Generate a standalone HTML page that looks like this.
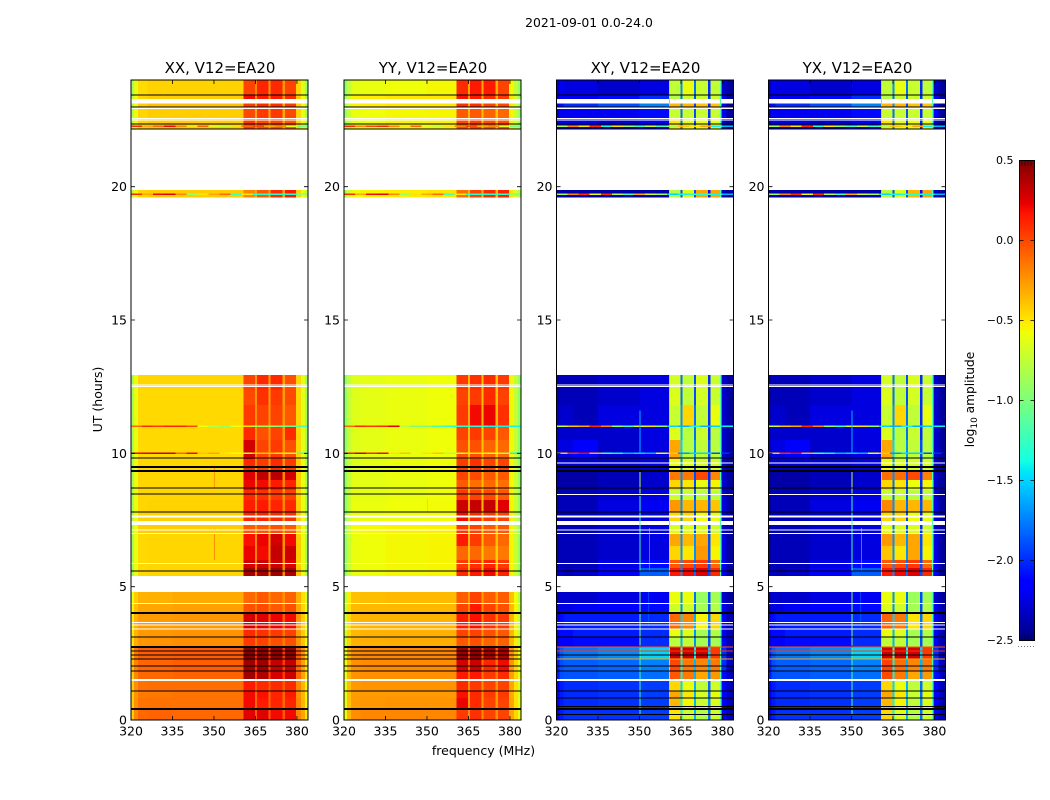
<!DOCTYPE html>
<html>
<head>
<meta charset="utf-8">
<title>2021-09-01 0.0-24.0</title>
<style>
html,body{margin:0;padding:0;background:#fff;}
svg{display:block;}
text{font-family:"DejaVu Sans","Liberation Sans",sans-serif;fill:#000;}
</style>
</head>
<body>
<svg id="fig" width="1050" height="800" viewBox="0 0 1050 800" xmlns="http://www.w3.org/2000/svg">
<text x="589" y="27" font-size="12.4" text-anchor="middle">2021-09-01 0.0-24.0</text>
<text x="483.5" y="755" font-size="12.5" text-anchor="middle">frequency (MHz)</text>
<text x="0" y="0" font-size="12.5" text-anchor="middle" transform="translate(102,399.5) rotate(-90)">UT (hours)</text>
<text x="0" y="0" font-size="12.2" text-anchor="middle" transform="translate(974,399.5) rotate(-90)">log<tspan font-size="9" dy="3">10</tspan><tspan dy="-3"> amplitude</tspan></text>
<g id="panels"></g>
<g id="cbar"></g>
</svg>
<script>
// Frequency column edges (MHz)
var freqEdges=[320,321,322.5,326,335,350,360.6,364.8,365.6,369.7,370.5,374.8,375.6,379.6,381.5,383,384];
// Time rows with data (UT hours, start and end)
var timeRows=[[0,.375],[.375,.825],[.825,1.09],[1.09,1.5],[1.54,1.84],[1.84,2.29],[2.29,2.74],[2.74,3.11],[3.11,3.41],[3.41,4.01],[4.01,4.39],[4.39,4.8],
[5.4,5.7],[5.7,6],[6,6.525],[6.525,7],[7,7.31],[7.46,7.8],[7.8,8.25],[8.25,8.63],[8.63,9],[9,9.34],[9.34,9.79],[9.79,10.5],[10.5,10.99],[10.99,11.81],[11.81,12.38],[12.38,12.94],
[19.59,19.875],[22.14,22.5],[22.5,22.95],[22.99,23.11],[23.29,23.44],[23.44,24]];
// log10 amplitude per time row and frequency column
var ampXX=[
[-.42,-.2,-.1,-.08,-.1,-.1,.25,-.05,.25,-.05,.2,-.05,.2,-.2,-.3,-.5],
[-.42,-.22,-.14,-.13,-.13,-.13,.2,-.1,.15,-.1,.12,-.1,.12,-.2,-.35,-.55],
[-.42,-.24,-.16,-.15,-.14,-.14,.2,-.1,.18,-.1,.12,-.1,.15,-.22,-.35,-.55],
[-.42,-.22,-.13,-.12,-.12,-.12,.15,-.06,.1,-.06,.1,-.06,.1,-.2,-.35,-.55],
[-.42,-.2,-.1,-.1,-.08,-.08,.42,.05,.38,.02,.28,.05,.3,-.1,-.28,-.5],
[-.4,-.18,-.09,-.09,-.07,-.07,.42,.08,.42,.02,.32,.05,.32,-.1,-.28,-.5],
[-.4,-.16,-.07,-.07,-.06,-.06,.48,.1,.45,.05,.45,.05,.45,-.05,-.25,-.48],
[-.5,-.32,-.25,-.24,-.22,-.22,.05,-.12,.02,-.15,-.02,-.15,-.02,-.25,-.4,-.6],
[-.52,-.34,-.26,-.25,-.24,-.24,.1,-.12,.08,-.14,.05,-.14,.02,-.28,-.42,-.62],
[-.52,-.34,-.26,-.26,-.25,-.25,.28,-.05,.25,-.06,.22,-.06,.2,-.25,-.42,-.62],
[-.55,-.38,-.3,-.3,-.28,-.28,-.02,-.15,0,-.18,-.05,-.18,-.02,-.3,-.45,-.65],
[-.6,-.42,-.34,-.33,-.31,-.31,-.1,-.2,-.05,-.22,-.1,-.22,-.08,-.32,-.48,-.7],
[-.85,-.6,-.46,-.45,-.45,-.45,.4,-.12,.4,-.2,.42,-.2,.38,-.4,-.6,-.85],
[-.85,-.6,-.46,-.45,-.45,-.45,.28,-.15,.3,-.2,.3,-.2,.25,-.42,-.6,-.85],
[-.85,-.6,-.46,-.45,-.45,-.45,.22,-.18,.2,-.22,.32,-.22,.3,-.42,-.6,-.85],
[-.85,-.6,-.46,-.45,-.45,-.45,.18,-.2,.22,-.24,.28,-.24,.2,-.42,-.6,-.85],
[-.8,-.6,-.43,-.42,-.42,-.42,-.05,-.25,-.05,-.28,-.02,-.25,-.05,-.42,-.6,-.85],
[-.85,-.6,-.44,-.44,-.44,-.44,.12,-.2,.12,-.22,.1,-.22,.08,-.42,-.6,-.85],
[-.85,-.6,-.45,-.44,-.44,-.44,.14,-.18,.15,-.2,.12,-.2,.1,-.42,-.6,-.85],
[-.85,-.6,-.45,-.45,-.45,-.45,.1,-.2,.08,-.22,.05,-.22,.02,-.44,-.6,-.85],
[-.85,-.6,-.45,-.45,-.45,-.45,.22,-.18,.2,-.2,.15,-.2,.12,-.42,-.6,-.85],
[-.85,-.6,-.45,-.45,-.45,-.45,.25,-.15,.33,-.2,.35,-.2,.28,-.42,-.6,-.85],
[-.85,-.6,-.45,-.45,-.45,-.45,.1,-.2,.05,-.25,.1,-.25,.05,-.42,-.6,-.85],
[-.85,-.6,-.46,-.46,-.46,-.46,.28,-.2,.02,-.25,.05,-.25,-.02,-.45,-.62,-.85],
[-.85,-.6,-.46,-.46,-.46,-.46,.1,-.22,-.02,-.25,.02,-.25,.1,-.45,-.62,-.85],
[-.85,-.6,-.46,-.46,-.46,-.46,.05,-.22,.02,-.25,.02,-.25,-.05,-.45,-.62,-.85],
[-.85,-.6,-.46,-.46,-.46,-.46,0,-.25,.08,-.28,.05,-.28,0,-.45,-.62,-.85],
[-.85,-.6,-.45,-.45,-.45,-.45,.02,-.25,.1,-.28,.1,-.28,-.02,-.45,-.62,-.85],
[-.8,-.6,-.45,-.42,-.42,-.42,-.2,-.3,-.05,-.3,.1,-.3,.15,-.45,-.6,-.75],
[-.8,-.6,-.45,-.42,-.42,-.42,.05,-.25,0,-.28,0,-.28,-.05,-.45,-.6,-.8],
[-.8,-.6,-.45,-.42,-.42,-.42,0,-.3,.05,-.3,.05,-.3,0,-.45,-.62,-.85],
[-.8,-.6,-.42,-.38,-.38,-.38,.05,-.25,.1,-.28,.08,-.28,.05,-.42,-.6,-.85],
[-.8,-.6,-.45,-.42,-.42,-.42,.2,-.2,.15,-.25,.15,-.25,.1,-.42,-.6,-.85],
[-.85,-.62,-.47,-.44,-.44,-.44,.02,-.2,.12,-.25,.1,-.25,.02,-.45,-.65,-.9]];
var ampYY=[
[-.6,-.35,-.22,-.2,-.2,-.2,.05,-.22,.08,-.22,.02,-.22,.02,-.3,-.45,-.6],
[-.62,-.38,-.26,-.25,-.24,-.24,.22,-.25,.1,-.25,.02,-.25,.02,-.3,-.48,-.62],
[-.62,-.38,-.27,-.26,-.26,-.26,.18,-.25,.1,-.25,.05,-.25,.05,-.32,-.48,-.65],
[-.62,-.38,-.26,-.24,-.24,-.24,.1,-.22,.05,-.22,.02,-.22,.02,-.3,-.48,-.65],
[-.6,-.35,-.24,-.22,-.22,-.22,.15,-.1,.15,-.15,.05,-.15,.1,-.28,-.45,-.6],
[-.6,-.35,-.23,-.21,-.21,-.21,.28,-.08,.3,-.12,.12,-.12,.2,-.25,-.45,-.6],
[-.6,-.33,-.22,-.2,-.2,-.2,.42,0,.45,-.05,.4,-.05,.38,-.22,-.42,-.58],
[-.7,-.45,-.34,-.33,-.32,-.32,-.05,-.22,-.02,-.25,-.08,-.25,-.08,-.35,-.52,-.72],
[-.7,-.46,-.36,-.34,-.34,-.34,.02,-.22,.02,-.25,-.02,-.25,-.05,-.36,-.55,-.74],
[-.7,-.46,-.35,-.34,-.34,-.34,.15,-.15,.18,-.2,.08,-.2,.05,-.34,-.55,-.74],
[-.72,-.48,-.36,-.35,-.35,-.35,.02,-.2,.15,-.22,.02,-.22,-.02,-.36,-.55,-.76],
[-.78,-.52,-.38,-.37,-.36,-.36,-.06,-.25,.02,-.28,-.06,-.28,-.06,-.38,-.58,-.8],
[-.92,-.72,-.6,-.58,-.56,-.55,.1,-.35,.15,-.38,.2,-.38,.12,-.55,-.72,-.9],
[-.92,-.72,-.6,-.58,-.56,-.55,.05,-.38,.08,-.4,.12,-.4,.05,-.55,-.72,-.9],
[-.92,-.72,-.6,-.58,-.56,-.55,-.1,-.38,-.1,-.42,-.15,-.42,-.15,-.55,-.72,-.9],
[-.92,-.72,-.6,-.58,-.56,-.55,.15,-.35,.05,-.38,-.05,-.38,-.1,-.55,-.72,-.9],
[-.9,-.7,-.58,-.56,-.54,-.53,.05,-.35,.02,-.38,-.05,-.38,-.05,-.55,-.72,-.9],
[-.92,-.72,-.6,-.6,-.58,-.57,.2,-.32,.1,-.35,.05,-.35,.02,-.55,-.72,-.9],
[-.92,-.72,-.6,-.6,-.58,-.57,.3,-.3,.32,-.35,.32,-.35,.25,-.55,-.72,-.9],
[-.92,-.74,-.62,-.62,-.6,-.58,.05,-.35,.02,-.38,0,-.38,-.05,-.56,-.72,-.9],
[-.92,-.74,-.62,-.62,-.6,-.58,-.05,-.35,-.12,-.38,-.1,-.38,-.12,-.56,-.72,-.9],
[-.92,-.74,-.62,-.62,-.6,-.58,.02,-.32,0,-.35,-.05,-.35,-.05,-.56,-.72,-.9],
[-.92,-.74,-.64,-.62,-.6,-.58,.05,-.32,.08,-.36,.02,-.36,.02,-.56,-.72,-.92],
[-.92,-.74,-.64,-.62,-.6,-.58,-.02,-.38,-.02,-.4,-.08,-.4,-.1,-.56,-.74,-.92],
[-.92,-.74,-.64,-.62,-.6,-.58,.02,-.36,.05,-.4,.02,-.4,-.05,-.56,-.74,-.92],
[-.92,-.74,-.64,-.62,-.6,-.58,.05,-.32,.2,-.36,.22,-.36,.08,-.56,-.74,-.92],
[-.92,-.74,-.64,-.62,-.6,-.58,.02,-.36,.05,-.38,.1,-.38,.02,-.56,-.74,-.92],
[-.92,-.74,-.64,-.62,-.6,-.58,.05,-.36,.08,-.38,.1,-.38,.05,-.56,-.74,-.92],
[-.85,-.68,-.58,-.55,-.52,-.5,-.12,-.35,.02,-.35,.1,-.35,.12,-.5,-.68,-.82],
[-.88,-.7,-.6,-.58,-.55,-.54,0,-.32,.02,-.35,-.02,-.35,-.02,-.52,-.7,-.88],
[-.9,-.72,-.6,-.58,-.56,-.55,-.05,-.35,-.05,-.38,-.08,-.38,-.1,-.55,-.72,-.9],
[-.88,-.68,-.55,-.52,-.5,-.5,.08,-.3,.08,-.35,.02,-.35,0,-.5,-.7,-.88],
[-.85,-.68,-.55,-.52,-.5,-.5,.18,-.28,.15,-.32,.1,-.32,.05,-.5,-.7,-.88],
[-.92,-.74,-.62,-.6,-.58,-.56,.1,-.3,.15,-.32,.15,-.32,.02,-.56,-.75,-.92]];
var ampXY=[
[-2.2,-2.05,-1.98,-1.98,-1.98,-1.95,-.5,-1.4,-.7,-1.6,-.8,-1.8,-.7,-2.15,-2.3,-2.4],
[-2.2,-2.05,-2,-2,-1.98,-1.95,-.35,-1.4,-.55,-1.6,-.72,-1.7,-.65,-2.15,-2.3,-2.4],
[-2.2,-2.05,-2,-2,-1.98,-1.95,-.3,-1.5,-.5,-1.6,-.68,-1.8,-.6,-2.15,-2.3,-2.4],
[-2.2,-2.05,-2,-2,-1.98,-1.95,-.45,-1.5,-.6,-1.6,-.75,-1.8,-.7,-2.15,-2.3,-2.4],
[-2.05,-1.9,-1.88,-1.88,-1.85,-1.8,-.05,-1.4,-.15,-1.6,-.3,-1.7,-.25,-2.1,-2.3,-2.4],
[-2.05,-1.9,-1.85,-1.85,-1.82,-1.75,0,-1.4,-.15,-1.6,-.2,-1.6,-.15,-2,-2.3,-2.4],
[-2,-1.85,-1.78,-1.78,-1.72,-1.5,.3,-1.2,.3,-1.4,.3,-1.5,.05,-2,-2.3,-2.4],
[-2.25,-2.15,-2.15,-2.1,-2.1,-2,-.78,-1.6,-.75,-1.7,-.85,-1.9,-.85,-2.2,-2.35,-2.4],
[-2.2,-2.1,-2.1,-2.05,-2.05,-2,-.6,-1.6,-.65,-1.7,-.85,-1.8,-.8,-2.2,-2.35,-2.4],
[-2.2,-2.1,-2.05,-2.05,-2.05,-2,-.1,-1.5,-.2,-1.6,-.55,-1.8,-.45,-2.2,-2.35,-2.4],
[-2.3,-2.25,-2.25,-2.2,-2.15,-2.1,-.7,-1.7,-.7,-1.8,-.85,-1.9,-.8,-2.2,-2.35,-2.4],
[-2.35,-2.3,-2.3,-2.3,-2.25,-2.2,-.6,-1.7,-.6,-1.8,-.9,-1.9,-.85,-2.3,-2.4,-2.45],
[-2.3,-2.3,-2.35,-2.3,-2.15,-1.85,.15,-1.7,.2,-1.8,.25,-1.9,.1,-2.2,-2.4,-2.45],
[-2.4,-2.35,-2.35,-2.35,-2.25,-2.1,-.05,-1.7,0,-1.8,.05,-1.9,-.1,-2.2,-2.4,-2.45],
[-2.4,-2.35,-2.35,-2.35,-2.3,-2.25,-.45,-1.7,-.5,-1.7,-.25,-1.9,-.55,-2.25,-2.4,-2.45],
[-2.4,-2.35,-2.35,-2.35,-2.3,-2.25,-.3,-1.7,-.35,-1.7,-.3,-1.9,-.5,-2.25,-2.4,-2.45],
[-2.4,-2.35,-2.35,-2.35,-2.3,-2.25,-.65,-1.8,-.65,-1.9,-.65,-2,-.7,-2.3,-2.4,-2.45],
[-2.4,-2.35,-2.35,-2.35,-2.3,-2.25,-.45,-1.7,-.45,-1.9,-.58,-2,-.6,-2.3,-2.4,-2.45],
[-2.4,-2.35,-2.35,-2.35,-2.25,-2.2,-.25,-1.7,-.35,-1.8,-.35,-1.9,-.4,-2.25,-2.4,-2.45],
[-2.4,-2.35,-2.35,-2.35,-2.3,-2.25,-.72,-1.8,-.72,-1.9,-.78,-2,-.75,-2.3,-2.4,-2.45],
[-2.4,-2.4,-2.4,-2.4,-2.35,-2.3,-.45,-1.8,-.5,-1.9,-.6,-2,-.55,-2.3,-2.4,-2.45],
[-2.4,-2.4,-2.4,-2.4,-2.35,-2.3,-.15,-1.7,-.15,-1.9,0,-2,-.2,-2.3,-2.4,-2.45],
[-2.35,-2.3,-2.3,-2.3,-2.3,-2.25,-.6,-1.7,-.65,-1.9,-.68,-2,-.68,-2.3,-2.4,-2.45],
[-2.3,-2.25,-2.25,-2.15,-2.3,-2.25,-.3,-1.5,-.78,-1.7,-.75,-1.9,-.78,-2.3,-2.4,-2.45],
[-2.35,-2.3,-2.3,-2.3,-2.3,-2.25,-.65,-1.6,-.78,-1.8,-.72,-2,-.78,-2.3,-2.4,-2.45],
[-2.35,-2.3,-2.3,-2.35,-2.25,-2.25,-.72,-1.7,-.45,-1.8,-.75,-2,-.6,-2.3,-2.4,-2.45],
[-2.4,-2.35,-2.35,-2.35,-2.3,-2.25,-.65,-1.8,-.75,-1.9,-.68,-2,-.72,-2.3,-2.4,-2.45],
[-2.4,-2.35,-2.35,-2.35,-2.3,-2.25,-.68,-1.8,-.75,-1.9,-.65,-2,-.72,-2.3,-2.4,-2.45],
[-2.4,-2.4,-2.4,-2.4,-2.4,-2.4,-.8,-1.9,-.65,-1.9,-.3,-2.1,-.3,-2.35,-2.45,-2.45],
[-2.3,-2.25,-2.25,-2.25,-2.3,-2.2,-.5,-1.8,-.62,-1.9,-.6,-2,-.6,-2.3,-2.4,-2.45],
[-2.3,-2.2,-2.2,-2.2,-2.2,-2.1,-.72,-1.8,-.72,-1.9,-.72,-2,-.72,-2.2,-2.4,-2.45],
[-2.2,-2.1,-2,-2,-1.9,-1.75,-.35,-1.7,-.35,-1.9,-.4,-2,-.4,-2.2,-2.4,-2.45],
[-2.3,-2.2,-2.2,-2.2,-2.1,-2,-.8,-1.8,-.72,-1.9,-.72,-2,-.72,-2.2,-2.4,-2.45],
[-2.3,-2.2,-2.25,-2.25,-2.3,-2.25,-.75,-1.7,-.6,-1.8,-.72,-2,-.75,-2.3,-2.4,-2.45]];
var ampYX=[
[-2.2,-2.05,-1.98,-1.98,-1.98,-1.95,-.45,-1.4,-.65,-1.6,-.8,-1.8,-.7,-2.15,-2.3,-2.4],
[-2.2,-2.05,-2,-2,-1.98,-1.95,-.35,-1.4,-.55,-1.6,-.75,-1.7,-.65,-2.15,-2.3,-2.4],
[-2.2,-2.05,-2,-2,-1.98,-1.95,-.3,-1.5,-.5,-1.6,-.72,-1.8,-.6,-2.15,-2.3,-2.4],
[-2.2,-2.05,-2,-2,-1.98,-1.95,-.45,-1.5,-.6,-1.6,-.75,-1.8,-.7,-2.15,-2.3,-2.4],
[-2.05,-1.9,-1.88,-1.88,-1.85,-1.8,0,-1.4,-.15,-1.6,-.3,-1.7,-.25,-2.1,-2.3,-2.4],
[-2.05,-1.9,-1.85,-1.85,-1.82,-1.75,.02,-1.4,-.12,-1.6,-.2,-1.6,-.15,-2,-2.3,-2.4],
[-2,-1.85,-1.78,-1.78,-1.72,-1.5,.3,-1.2,.3,-1.4,.28,-1.5,.05,-2,-2.3,-2.4],
[-2.25,-2.15,-2.15,-2.1,-2.1,-2,-.75,-1.6,-.75,-1.7,-.85,-1.9,-.85,-2.2,-2.35,-2.4],
[-2.2,-2.1,-2.1,-2.05,-2.05,-2,-.6,-1.6,-.65,-1.7,-.85,-1.8,-.8,-2.2,-2.35,-2.4],
[-2.2,-2.1,-2.05,-2.05,-2.05,-2,-.08,-1.5,-.15,-1.6,-.5,-1.8,-.45,-2.2,-2.35,-2.4],
[-2.3,-2.25,-2.25,-2.2,-2.15,-2.1,-.65,-1.7,-.7,-1.8,-.85,-1.9,-.8,-2.2,-2.35,-2.4],
[-2.35,-2.3,-2.3,-2.3,-2.25,-2.2,-.6,-1.7,-.6,-1.8,-.88,-1.9,-.85,-2.3,-2.4,-2.45],
[-2.3,-2.3,-2.35,-2.3,-2.15,-1.85,.15,-1.7,.2,-1.8,.25,-1.9,.1,-2.2,-2.4,-2.45],
[-2.4,-2.35,-2.35,-2.35,-2.25,-2.1,-.05,-1.7,0,-1.8,.05,-1.9,-.1,-2.2,-2.4,-2.45],
[-2.4,-2.35,-2.35,-2.35,-2.3,-2.25,-.4,-1.7,-.5,-1.7,-.3,-1.9,-.55,-2.25,-2.4,-2.45],
[-2.4,-2.35,-2.35,-2.35,-2.3,-2.25,-.25,-1.7,-.35,-1.7,-.3,-1.9,-.5,-2.25,-2.4,-2.45],
[-2.4,-2.35,-2.35,-2.35,-2.3,-2.25,-.62,-1.8,-.65,-1.9,-.65,-2,-.7,-2.3,-2.4,-2.45],
[-2.4,-2.35,-2.35,-2.35,-2.3,-2.25,-.45,-1.7,-.45,-1.9,-.58,-2,-.6,-2.3,-2.4,-2.45],
[-2.4,-2.35,-2.35,-2.35,-2.25,-2.2,-.2,-1.7,-.35,-1.8,-.35,-1.9,-.35,-2.25,-2.4,-2.45],
[-2.4,-2.35,-2.35,-2.35,-2.3,-2.25,-.72,-1.8,-.72,-1.9,-.78,-2,-.75,-2.3,-2.4,-2.45],
[-2.4,-2.4,-2.4,-2.4,-2.35,-2.3,-.45,-1.8,-.5,-1.9,-.6,-2,-.55,-2.3,-2.4,-2.45],
[-2.4,-2.4,-2.4,-2.4,-2.35,-2.3,-.12,-1.7,-.12,-1.9,0,-2,-.18,-2.3,-2.4,-2.45],
[-2.35,-2.3,-2.3,-2.3,-2.3,-2.25,-.6,-1.7,-.65,-1.9,-.68,-2,-.68,-2.3,-2.4,-2.45],
[-2.3,-2.25,-2.25,-2.15,-2.3,-2.25,-.3,-1.5,-.78,-1.7,-.75,-1.9,-.78,-2.3,-2.4,-2.45],
[-2.35,-2.3,-2.3,-2.3,-2.3,-2.25,-.65,-1.6,-.78,-1.8,-.72,-2,-.75,-2.3,-2.4,-2.45],
[-2.35,-2.3,-2.3,-2.35,-2.25,-2.25,-.72,-1.7,-.45,-1.8,-.75,-2,-.6,-2.3,-2.4,-2.45],
[-2.4,-2.35,-2.35,-2.35,-2.3,-2.25,-.65,-1.8,-.75,-1.9,-.68,-2,-.72,-2.3,-2.4,-2.45],
[-2.4,-2.35,-2.35,-2.35,-2.3,-2.25,-.68,-1.8,-.75,-1.9,-.65,-2,-.72,-2.3,-2.4,-2.45],
[-2.4,-2.4,-2.4,-2.4,-2.4,-2.4,-.78,-1.9,-.65,-1.9,-.35,-2.1,-.3,-2.35,-2.45,-2.45],
[-2.3,-2.25,-2.25,-2.25,-2.3,-2.2,-.5,-1.8,-.62,-1.9,-.6,-2,-.6,-2.3,-2.4,-2.45],
[-2.3,-2.2,-2.2,-2.2,-2.2,-2.1,-.72,-1.8,-.72,-1.9,-.72,-2,-.72,-2.2,-2.4,-2.45],
[-2.2,-2.1,-2,-2,-1.9,-1.75,-.35,-1.7,-.35,-1.9,-.4,-2,-.4,-2.2,-2.4,-2.45],
[-2.3,-2.2,-2.2,-2.2,-2.1,-2,-.8,-1.8,-.72,-1.9,-.72,-2,-.72,-2.2,-2.4,-2.45],
[-2.3,-2.2,-2.25,-2.25,-2.3,-2.25,-.75,-1.7,-.6,-1.8,-.72,-2,-.75,-2.3,-2.4,-2.45]];
// Short interference rows (UT hours); values are 4 MHz bins from 320 to 384 MHz
var spikeHoursParallel=[[10.98,11.04],[9.98,10.04],[22.24,22.3],[19.68,19.74]];
var spikesXX=[
[-.1,.1,.05,.12,.12,0,-.6,-.8,-.9,-.6,-.5,-.9,-.9,-1,-1.1,-1.2],
[.2,.25,.3,.3,-.1,.2,-.4,-.3,-.5,-.6,-.7,-.4,-.4,-.5,-.7,-1.2],
[.1,-.3,-.1,.2,-.2,-.5,-.1,-.6,-.7,-.5,-.1,0,-.3,-.2,-.6,-1],
[.1,-.3,.2,.25,-.2,-.9,-.5,-.3,-.1,-1.2,-.5,-1.3,-1.3,-1.3,-1.3,-.9]];
var spikesYY=[
[-.1,.1,.05,.1,.25,-.8,-1,-1,-1.2,-1.3,-1.3,-1.3,-1.3,-1.4,-1.4,-1.4],
[.15,.3,.1,.2,-.5,-.4,-.6,-.5,-.4,-.8,-.7,-.5,-.5,-.6,-.8,-1.4],
[.1,-.2,0,.1,-.2,-.5,-.1,-.6,-.7,-.5,-.2,0,-.3,-.2,-.6,-1],
[.1,-.3,.2,.25,-.2,-.9,-.5,-.3,-.1,-1.2,-.5,-1.3,-1.3,-1.3,-1.3,-.9]];
var spikesXY=[
[-.7,-.4,-.3,.1,-.2,-.9,-1.2,-.6,-.5,-.9,-1.5,-1.6,-1.4,-1.6,-1.5,-1.4],
[-.4,.1,.2,-.3,-1.2,-1.4,-1.6,-1.5,-1.6,-.6,-.4,-1.7,-1.5,-1.5,-1.9,-2],
[-.8,-.2,-.5,.1,-1.3,-.5,-.9,-1.2,-.7,-1.2,-.8,-.4,-.5,-.3,-1.4,-1.6],
[-.9,-.2,.1,-.6,.1,-.8,-1.2,-.3,-.7,-.9,-1.5,-1.4,-1.3,-1.3,-1.4,-1.6]];
var spikesYX=[
[-.7,-.4,-.3,.1,-.2,-.9,-1.2,-.6,-.5,-.9,-1.5,-1.6,-1.4,-1.6,-1.5,-1.4],
[-.4,.1,.2,-.3,-1.2,-1.4,-1.6,-1.5,-1.6,-.6,-.4,-1.7,-1.5,-1.5,-1.9,-2],
[-.8,-.2,-.5,.1,-1.3,-.5,-.9,-1.2,-.7,-1.2,-.8,-.4,-.5,-.3,-1.4,-1.6],
[-.9,-.2,.1,-.6,.1,-.8,-1.2,-.3,-.7,-.9,-1.5,-1.4,-1.3,-1.3,-1.4,-1.6]];
// Vertical interference: start hour, end hour, frequency (MHz), log10 amplitude
var streaksXX=[[6,7,350,-.22],[8.7,9.5,350,-.25]];
var streaksYY=[[7.8,8.3,350,-.45]];
var streaksCross=[[8.5,9.3,350,-.8],[5.6,8.4,350,-1.2],[10,11.6,350,-1.6],[2.8,4.8,350,-1],[.2,2.7,350,-1.2],[5.6,7.2,353.5,-1.7],[3.5,4.8,353,-1.8],
[0,4.8,360.7,-1.15],[5.4,12.94,360.7,-1.15],[19.59,19.875,360.7,-1.15],[22.14,24,360.7,-1.15],
[0,4.8,379.2,-1.15],[5.4,12.94,379.2,-1.15],[19.59,19.875,379.2,-1.15],[22.14,24,379.2,-1.15]];
// Cross-hand horizontal hot rows (start hour, end hour, log10 amplitude)
var hotRowsCross=[[2.72,2.76,-.05],[2.57,2.61,.05],[2.27,2.31,-.3]];
// Flagged rows (UT hours)
var blackParallel=[[23.42,23.46],[22.97,23.01],[22.33,22.37],[22.14,22.18],[9.81,9.85],[9.45,9.52],[9.3,9.37],[8.68,8.72],[8.46,8.5],[7.78,7.82],[5.57,5.61],[3.98,4.05],[3.09,3.13],[2.7,2.77],[2.57,2.61],[2.42,2.46],[2.27,2.31],[2.01,2.05],[1.82,1.86],[1.07,1.11],[.375,.45]];
var blackCross=[[23.42,23.46],[22.97,23.01],[22.33,22.37],[22.14,22.18],[9.81,9.85],[9.45,9.52],[9.3,9.37],[8.68,8.72],[7.78,7.82],[5.57,5.61],[3.98,4.05],[3.09,3.13],[2.42,2.46],[2.01,2.05],[1.82,1.86],[1.07,1.11],[.81,.84],[.5,.53],[.375,.45],[.2,.23]];
var whiteShared=[[12.55,12.59],[12.5,12.53],[7.59,7.66],[7.12,7.15],[6.99,7.02],[5.86,5.89],[4.36,4.39],[3.65,3.68],[3.55,3.58],[3.39,3.44],[1.47,1.54],[22.92,22.95],[22.54,22.58],[22.48,22.52]];
var whiteCrossExtra=[[9.62,9.66],[8.43,8.47]];
// Axis tick values and labels
var xTicks=[320,335,350,365,380];
var yTicks=[0,5,10,15,20];
var cbarTicks=[-2.5,-2,-1.5,-1,-.5,0,.5];
var cbarLabels=["\u22122.5","\u22122.0","\u22121.5","\u22121.0","\u22120.5","0.0","0.5"];
var panelTitles=["XX, V12=EA20","YY, V12=EA20","XY, V12=EA20","YX, V12=EA20"];

var NS="http://www.w3.org/2000/svg";
var FMIN=320,FMAX=384,TMIN=0,TMAX=24,VMIN=-2.5,VMAX=.5;
var TOP=80,BOTTOM=720;
var panelLeft=[131,344,556.5,768.5],panelWidth=177;

function piece(t,xs,ys){
  for(var i=1;i<xs.length;i++){
    if(t<=xs[i]){return ys[i-1]+(ys[i]-ys[i-1])*(t-xs[i-1])/(xs[i]-xs[i-1]);}
  }
  return ys[ys.length-1];
}
function jet(t){
  t=Math.max(0,Math.min(1,t));
  var r=piece(t,[0,.35,.66,.89,1],[0,0,1,1,.5]);
  var g=piece(t,[0,.125,.375,.64,.91,1],[0,0,1,1,0,0]);
  var b=piece(t,[0,.11,.34,.65,1],[.5,1,1,0,0]);
  return "rgb("+Math.round(r*255)+","+Math.round(g*255)+","+Math.round(b*255)+")";
}
function colorOf(v){return jet((v-VMIN)/(VMAX-VMIN));}
function yScale(h){return BOTTOM-(h-TMIN)/(TMAX-TMIN)*(BOTTOM-TOP);}
function xScale(p,f){return panelLeft[p]+(f-FMIN)/(FMAX-FMIN)*panelWidth;}
function cbarY(v){return 640-(v-VMIN)/(VMAX-VMIN)*480;}
function mk(tag,parent){var e=document.createElementNS(NS,tag);parent.appendChild(e);return e;}
function setA(e,o){for(var k in o){e.setAttribute(k,o[k]);}}

function cellRect(parent,x0,x1,y0,y1,fill){
  var r=mk("rect",parent);
  setA(r,{x:x0,y:y0,width:Math.max(x1-x0,.5),height:Math.max(y1-y0,.5),fill:fill,"shape-rendering":"crispEdges"});
  
  
  return r;
}

var panelsRoot=document.getElementById("panels");
var matrices=[ampXX,ampYY,ampXY,ampYX];
var spikeSets=[spikesXX,spikesYY,spikesXY,spikesYX];
var streakSets=[streaksXX,streaksYY,streaksCross,streaksCross];

matrices.forEach(function(matrix,p){
  var g=mk("g",panelsRoot);
  
  
  var cross=p>1;
  matrix.forEach(function(row,i){
    var tr=timeRows[i];
    row.forEach(function(v,c){
      cellRect(g,xScale(p,freqEdges[c]),xScale(p,freqEdges[c+1]),yScale(tr[1]),yScale(tr[0]),colorOf(v));
    });
  });
  spikeSets[p].forEach(function(vals,i){
    var h=spikeHoursParallel[i];
    vals.forEach(function(v,b){
      cellRect(g,xScale(p,FMIN+b*4),xScale(p,FMIN+(b+1)*4),yScale(h[1]),yScale(h[0]),colorOf(v));
    });
  });
  streakSets[p].forEach(function(s){
    cellRect(g,xScale(p,s[2]),xScale(p,s[2]+.35),yScale(s[1]),yScale(s[0]),colorOf(s[3]));
  });
  if(cross){
    hotRowsCross.forEach(function(s){
      cellRect(g,xScale(p,FMIN),xScale(p,FMAX),yScale(s[1]),yScale(s[0]),colorOf(s[2]));
    });
  }
  var whites=cross?whiteShared.concat(whiteCrossExtra):whiteShared;
  whites.forEach(function(w){
    var r=mk("rect",g);
    setA(r,{x:panelLeft[p],y:yScale(w[1]),width:panelWidth,height:Math.max(yScale(w[0])-yScale(w[1]),1),fill:"#fff","shape-rendering":"crispEdges"});
    
    
  });
  (cross?blackCross:blackParallel).forEach(function(w){
    var r=mk("rect",g);
    setA(r,{x:panelLeft[p],y:yScale(w[1]),width:panelWidth,height:Math.max(yScale(w[0])-yScale(w[1]),1),fill:"#000","shape-rendering":"crispEdges"});
    
    
  });
  // frame
  var fr=mk("rect",g);
  setA(fr,{x:panelLeft[p],y:TOP,width:panelWidth,height:BOTTOM-TOP,fill:"none",stroke:"#000","stroke-width":1});
  
  
  // x ticks
  xTicks.forEach(function(t){
    var x=xScale(p,t);
    var a=mk("path",g);
    setA(a,{d:"M"+x+" "+BOTTOM+"v-4M"+x+" "+TOP+"v4",stroke:"#000","stroke-width":.8,fill:"none"});
    
    
    var l=mk("text",g);
    setA(l,{x:x,y:BOTTOM+15.5,"font-size":12.5,"text-anchor":"middle"});
    l.textContent=String(t);
    
    
  });
  // y ticks
  yTicks.forEach(function(t){
    var y=yScale(t);
    var a=mk("path",g);
    setA(a,{d:"M"+panelLeft[p]+" "+y+"h4M"+(panelLeft[p]+panelWidth)+" "+y+"h-4",stroke:"#000","stroke-width":.8,fill:"none"});
    
    
    var l=mk("text",g);
    setA(l,{x:panelLeft[p]-4,y:y+4.5,"font-size":12.5,"text-anchor":"end"});
    l.textContent=String(t);
    
    
  });
  var ttl=mk("text",g);
  setA(ttl,{x:panelLeft[p]+panelWidth/2+.5,y:TOP-7,"font-size":15,"text-anchor":"middle"});
  ttl.textContent=panelTitles[p];
  
  
});

// Colorbar
var cb=document.getElementById("cbar");
var defs=mk("defs",cb);
var grad=mk("linearGradient",defs);
setA(grad,{id:"jetGrad",x1:0,y1:1,x2:0,y2:0});
[0,.11,.125,.34,.35,.375,.64,.65,.66,.89,.91,1].forEach(function(t){
  var s=mk("stop",grad);
  setA(s,{offset:t,"stop-color":jet(t)});
});
var cbBar=mk("rect",cb);
setA(cbBar,{x:1019.5,y:160.5,width:15,height:480,fill:"url(#jetGrad)",stroke:"#000","stroke-width":1});


cbarTicks.forEach(function(v,i){
  var y=cbarY(v)+.5;
  var a=mk("path",cb);
  setA(a,{d:"M1019.5 "+y+"h4M1034.5 "+y+"h-4",stroke:"#000","stroke-width":.8,fill:"none"});
  
  
  var l=mk("text",cb);
  setA(l,{x:1013.5,y:cbarY(v)+4,"font-size":11,"text-anchor":"end",fill:"#000"});
  l.textContent=cbarLabels[i];
  
  
});
var combTop=mk("path",cb);
setA(combTop,{d:"M1022 161v5M1025 161v5M1028 161v5M1031 161v5M1022 640v-5M1025 640v-5M1028 640v-5M1031 640v-5",stroke:"#000","stroke-width":.6,fill:"none",opacity:.8});


var dots=mk("path",cb);
setA(dots,{d:"M1018 646.5h17",stroke:"#777","stroke-width":1,"stroke-dasharray":"1 2",fill:"none"});


</script>
</body>
</html>
